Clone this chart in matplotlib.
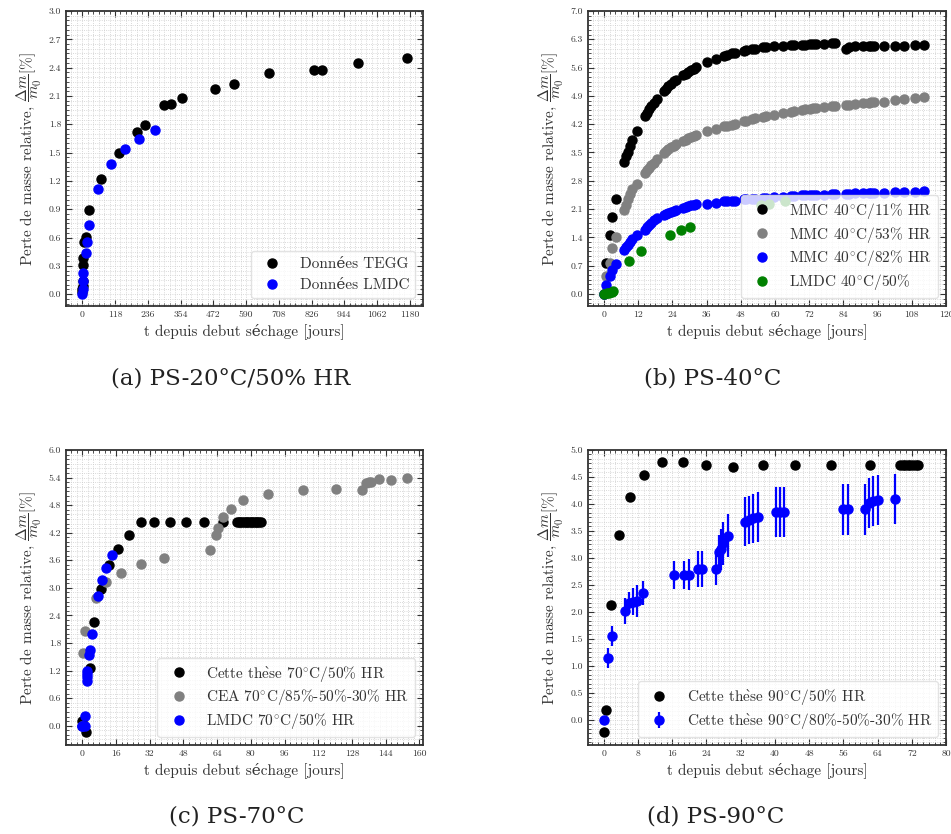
import matplotlib
matplotlib.use("Agg")
import matplotlib.pyplot as plt
from matplotlib.ticker import AutoMinorLocator, FormatStrFormatter

plt.rcParams['font.family'] = ['cmr10', 'DejaVu Serif']
plt.rcParams['mathtext.fontset'] = 'cm'
plt.rcParams['axes.formatter.use_mathtext'] = True
plt.rcParams['axes.unicode_minus'] = False

# ---------------- (a) PS-20°C/50% HR ----------------
tegg_t = [0, 0, 1, 1, 2, 3, 7, 12, 25, 66, 134, 198, 227, 295, 319, 358, 478, 548, 674, 835, 863, 993, 1169]
tegg_m = [0.02, 0.05, 0.09, 0.14, 0.31, 0.38, 0.55, 0.61, 0.89, 1.22, 1.50, 1.72, 1.79, 2.00, 2.01, 2.08,
          2.17, 2.23, 2.34, 2.37, 2.38, 2.45, 2.50]
lmdc20_t = [0, 1, 2, 2, 12, 16, 26, 58, 103, 153, 204, 263]
lmdc20_m = [0.0, 0.05, 0.14, 0.22, 0.44, 0.55, 0.73, 1.11, 1.38, 1.54, 1.64, 1.74]

# ---------------- (b) PS-40°C ----------------
mmc_t = [0, 0.75, 1.9, 2.8, 4.1, 7.1, 7.8, 8.4, 9.1, 9.8, 11.5, 14.2, 14.9, 15.7, 16.6, 17.6, 18.4,
         21, 21.7, 22.5, 23.4, 24.4, 25.3, 27.8, 28.6, 29.5, 30.5, 31.4, 32.3, 36.2, 39.1,
         42, 43.1, 45, 46, 49, 49.9, 51.9, 52.8, 55.8, 56.7, 59.7, 62.7, 65.6, 66.6, 69.5, 70.5,
         72.4, 73.4, 74.4, 77.2, 80.1, 81.1, 84.9, 85.9, 87.9, 90.9, 92.8, 93.8, 94.8,
         98.2, 102, 105.4, 109, 112.3]
mmc11_m = [0.0, 0.77, 1.45, 1.91, 2.34, 3.26, 3.40, 3.52, 3.66, 3.80, 4.03, 4.40, 4.48, 4.57, 4.65, 4.73, 4.81,
           5.02, 5.08, 5.14, 5.20, 5.26, 5.30, 5.41, 5.45, 5.49, 5.53, 5.57, 5.61, 5.74, 5.81,
           5.89, 5.91, 5.95, 5.97, 6.01, 6.03, 6.05, 6.07, 6.10, 6.11, 6.14, 6.14, 6.15, 6.16, 6.16, 6.17,
           6.18, 6.18, 6.18, 6.19, 6.20, 6.20, 6.06, 6.10, 6.13, 6.14, 6.14, 6.14, 6.14,
           6.14, 6.14, 6.14, 6.15, 6.15]
mmc53_m = [0.0, 0.44, 0.77, 1.13, 1.40, 2.07, 2.21, 2.34, 2.46, 2.60, 2.73, 3.00, 3.06, 3.12, 3.19, 3.25, 3.33,
           3.48, 3.53, 3.58, 3.63, 3.67, 3.71, 3.78, 3.82, 3.85, 3.88, 3.91, 3.94, 4.02, 4.09,
           4.15, 4.16, 4.19, 4.21, 4.27, 4.29, 4.32, 4.34, 4.38, 4.40, 4.43, 4.47, 4.50, 4.52, 4.55, 4.57,
           4.58, 4.59, 4.60, 4.62, 4.64, 4.65, 4.67, 4.68, 4.70, 4.72, 4.73, 4.74, 4.75,
           4.76, 4.80, 4.81, 4.84, 4.86]
mmc82_m = [0.0, 0.23, 0.44, 0.59, 0.75, 1.08, 1.16, 1.22, 1.29, 1.36, 1.45, 1.59, 1.65, 1.71, 1.76, 1.82, 1.87,
           1.94, 1.97, 2.00, 2.02, 2.06, 2.08, 2.12, 2.15, 2.17, 2.19, 2.20, 2.22, 2.23, 2.26,
           2.29, 2.30, 2.30, 2.31, 2.34, 2.35, 2.35, 2.36, 2.37, 2.38, 2.39, 2.40, 2.42, 2.43, 2.44, 2.44,
           2.44, 2.44, 2.44, 2.45, 2.46, 2.46, 2.48, 2.48, 2.49, 2.49, 2.49, 2.50, 2.50,
           2.50, 2.52, 2.52, 2.53, 2.54]
lmdc40_t = [0, 0.9, 1.8, 2.6, 3.2, 8.8, 13, 23.2, 27, 30, 55, 57.9, 63.5]
lmdc40_m = [0.0, 0.01, 0.02, 0.04, 0.08, 0.81, 1.06, 1.45, 1.57, 1.65, 2.19, 2.22, 2.30]

# ---------------- (c) PS-70°C ----------------
these70_t = [0, 1.7, 3.6, 5.7, 8.7, 12.8, 17, 22.1, 27.9, 34.2, 41.5, 49.2, 57.6, 66.9,
             73.5, 74.3, 75.1, 75.9, 76.7, 77.5, 78.3, 79.1, 79.9, 80.7, 81.5, 82.3, 83.1, 83.9, 84.6]
these70_m = [0.10, -0.14, 1.26, 2.26, 2.98, 3.49, 3.85, 4.15, 4.43, 4.43, 4.43, 4.43, 4.43, 4.43,
             4.43, 4.43, 4.43, 4.43, 4.43, 4.43, 4.43, 4.43, 4.43, 4.43, 4.43, 4.43, 4.43, 4.43, 4.43]
cea_t = [0, 0.6, 1.4, 6.6, 11.2, 18.5, 27.9, 38.7, 60.7, 63.7, 64.5, 66.6, 70.8, 76.5, 88, 104.8,
         120.4, 132.7, 134.6, 136.2, 137, 140.7, 146.3, 154]
cea_m = [0.0, 1.59, 2.06, 2.77, 3.13, 3.32, 3.52, 3.65, 3.83, 4.14, 4.31, 4.54, 4.72, 4.91, 5.05, 5.13,
         5.15, 5.14, 5.29, 5.30, 5.31, 5.37, 5.35, 5.39]
lmdc70_t = [0, 0.1, 1.3, 1.4, 2.1, 2.2, 2.2, 2.3, 3.4, 3.5, 4.4, 7.3, 9.3, 11.5, 14.2]
lmdc70_m = [0.0, -0.01, 0.0, 0.21, 0.97, 1.05, 1.12, 1.19, 1.54, 1.65, 1.99, 2.82, 3.16, 3.43, 3.71]

# ---------------- (d) PS-90°C ----------------
these90_t = [0, 0.4, 1.6, 3.6, 6.2, 9.5, 13.7, 18.4, 23.9, 30.2, 37.1, 44.8, 53.1, 62.2,
             69.3, 69.9, 70.5, 71.1, 71.7, 72.3, 72.9, 73.4]
these90_m = [-0.22, 0.18, 2.13, 3.42, 4.13, 4.53, 4.77, 4.77, 4.72, 4.68, 4.72, 4.72, 4.72, 4.72,
             4.72, 4.72, 4.72, 4.72, 4.72, 4.72, 4.72, 4.72]
var90_t = [0, 0.95, 1.95, 5.0, 5.9, 6.8, 7.7, 9.1, 16.3, 18.75, 19.9, 22.0, 23.0, 26.3, 26.9, 27.3, 27.9, 29.0,
           33.0, 33.9, 34.9, 36.1, 40.2, 41.2, 42.1, 55.9, 57.0, 61.1, 62.0, 63.0, 64.0, 68.0]
var90_m = [0.0, 1.14, 1.55, 2.02, 2.17, 2.19, 2.20, 2.35, 2.69, 2.69, 2.69, 2.79, 2.79, 2.79, 3.10, 3.16, 3.27, 3.41,
           3.67, 3.70, 3.73, 3.76, 3.85, 3.85, 3.85, 3.90, 3.90, 3.90, 4.02, 4.05, 4.07, 4.09]
var90_err = [0.0, 0.18, 0.19, 0.24, 0.2, 0.25, 0.3, 0.23, 0.26, 0.26, 0.29, 0.33, 0.33, 0.29, 0.33, 0.38, 0.40, 0.40,
             0.45, 0.45, 0.45, 0.46, 0.46, 0.46, 0.46, 0.47, 0.47, 0.47, 0.46, 0.46, 0.46, 0.46]

captions = ["(a) PS-20°C/50% HR", "(b) PS-40°C", "(c) PS-70°C", "(d) PS-90°C"]

xlabel = "t depuis debut séchage [jours]"
ylabel = r"Perte de masse relative, $\dfrac{\Delta m}{m_0}[\%]$"
THESE = r"Cette th$\grave{\mathrm{e}}$se"

W, H = 951, 834
fig = plt.figure(figsize=(W / 100, H / 100), dpi=100)

def box(l, t, r, b):
    return [l / W, 1 - b / H, (r - l) / W, (b - t) / H]

axA = fig.add_axes(box(66, 11, 423, 306))
axB = fig.add_axes(box(588, 11, 946, 306))
axC = fig.add_axes(box(66, 450, 423, 745))
axD = fig.add_axes(box(588, 450, 946, 745))

MS = 6.5
def pts(ax, x, y, c, label):
    ax.plot(x, y, 'o', color=c, mec=c, ms=MS, label=label, zorder=3)

def style(ax, xticks, yticks, ylim, xlim=None, spacing=0.5):
    ax.set_xticks(xticks)
    ax.set_yticks(yticks)
    ax.yaxis.set_major_formatter(FormatStrFormatter('%.1f'))
    ax.xaxis.set_major_formatter(FormatStrFormatter('%d'))
    ax.xaxis.set_minor_locator(AutoMinorLocator(6))
    ax.yaxis.set_minor_locator(AutoMinorLocator(6))
    if xlim is not None:
        ax.set_xlim(*xlim)
    ax.set_ylim(*ylim)
    ax.tick_params(which='both', direction='in', top=True, right=True, labelsize=7,
                   labelcolor='#333333', color='#333333')
    ax.tick_params(which='major', length=4, width=0.8)
    ax.tick_params(which='minor', length=2, width=0.6)
    ax.grid(which='both', linestyle=':', color='#cccccc', linewidth=0.6, zorder=0)
    ax.set_axisbelow(True)
    for s in ax.spines.values():
        s.set_linewidth(1.3)
        s.set_color('#333333')
    ax.set_xlabel(xlabel, fontsize=11, color='#333333', labelpad=3)
    ax.set_ylabel(ylabel, fontsize=11, color='#333333', labelpad=3)
    leg = ax.legend(loc='lower right', fontsize=11, framealpha=0.8, edgecolor='#dddddd',
                    labelspacing=spacing)
    leg.set_zorder(5)
    for t in leg.get_texts():
        t.set_color('#333333')

# (a)
pts(axA, tegg_t, tegg_m, 'black', 'Données TEGG')
pts(axA, lmdc20_t, lmdc20_m, 'blue', 'Données LMDC')
style(axA, [0, 118, 236, 354, 472, 590, 708, 826, 944, 1062, 1180],
      [i * 0.3 for i in range(11)], (-0.125, 3.0))

# (b)
pts(axB, mmc_t, mmc11_m, 'black', r'MMC 40$^{\circ}$C/11% HR')
pts(axB, mmc_t, mmc53_m, 'gray', r'MMC 40$^{\circ}$C/53% HR')
pts(axB, mmc_t, mmc82_m, 'blue', r'MMC 40$^{\circ}$C/82% HR')
pts(axB, lmdc40_t, lmdc40_m, 'green', r'LMDC 40$^{\circ}$C/50%')
style(axB, list(range(0, 121, 12)), [i * 0.7 for i in range(11)], (-0.3, 7.0), xlim=(-5.65, 120),
      spacing=0.25)

# (c)
pts(axC, these70_t, these70_m, 'black', THESE + r' 70$^{\circ}$C/50% HR')
pts(axC, cea_t, cea_m, 'gray', r'CEA 70$^{\circ}$C/85%-50%-30% HR')
pts(axC, lmdc70_t, lmdc70_m, 'blue', r'LMDC 70$^{\circ}$C/50% HR')
style(axC, list(range(0, 161, 16)), [i * 0.6 for i in range(11)], (-0.42, 6.0), spacing=0.25)

# (d)
pts(axD, these90_t, these90_m, 'black', THESE + r' 90$^{\circ}$C/50% HR')
axD.errorbar(var90_t, var90_m, yerr=var90_err, fmt='o', color='blue', mec='blue', ms=MS,
             elinewidth=1.6, capsize=0, zorder=3, label=THESE + r' 90$^{\circ}$C/80%-50%-30% HR')
style(axD, list(range(0, 81, 8)), [i * 0.5 for i in range(11)], (-0.47, 5.0), xlim=(-3.7, 80),
      spacing=0.25)

cap_kw = dict(fontsize=16.5, family='DejaVu Serif', ha='center', va='center', color='#222222')
fig.text(231 / W, 1 - 378 / H, captions[0], **cap_kw)
fig.text(713 / W, 1 - 378 / H, captions[1], **cap_kw)
fig.text(237 / W, 1 - 817 / H, captions[2], **cap_kw)
fig.text(716 / W, 1 - 817 / H, captions[3], **cap_kw)

fig.savefig('out.png', dpi=100)
